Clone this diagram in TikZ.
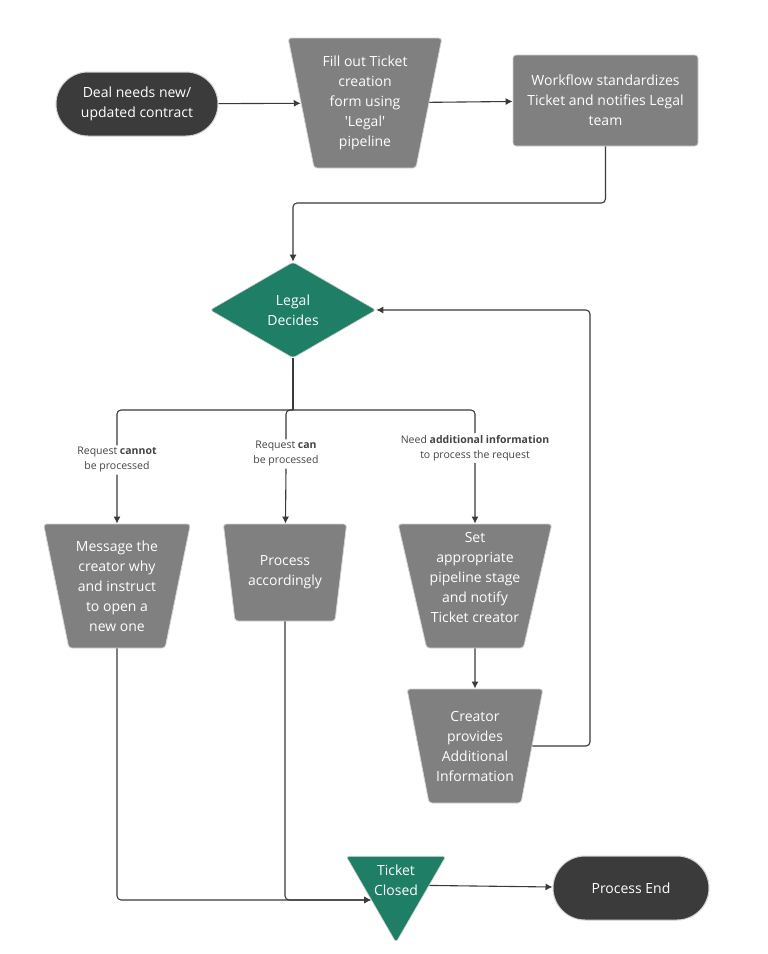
\documentclass[tikz,border=0pt]{standalone}
\usepackage{fontspec}
\setmainfont{Open Sans}
\usetikzlibrary{shapes.geometric,arrows.meta,calc}
\definecolor{darkfill}{HTML}{3B3B3B}
\definecolor{boxgray}{HTML}{808080}
\definecolor{legalgreen}{HTML}{1E7E66}
\definecolor{linegray}{HTML}{3A3A3A}
\definecolor{edgegray}{HTML}{D4D4D4}
\definecolor{labeltext}{HTML}{444444}
\begin{document}
\begin{tikzpicture}[x=1pt,y=-1pt,
  every node/.style={font=\fontsize{14}{20}\selectfont, text=white, align=center, inner sep=0pt},
  terminal/.style={rectangle, rounded corners=32pt, fill=darkfill, draw=edgegray, line width=1pt, minimum width=#1, minimum height=64pt},
  trap/.style args={#1/#2/#3}{trapezium, shape border rotate=180, trapezium stretches=true,
    trapezium left angle=#3, trapezium right angle=#3, minimum width=#1, minimum height=#2,
    fill=boxgray, draw=edgegray, line width=0.8pt, rounded corners=3pt},
  procbox/.style={rectangle, fill=boxgray, draw=edgegray, line width=0.8pt, rounded corners=3pt, minimum width=185pt, minimum height=91pt},
  decision/.style={diamond, fill=legalgreen, draw=edgegray, line width=0.6pt, minimum width=166pt, minimum height=96pt, rounded corners=3pt},
  closer/.style={regular polygon, regular polygon sides=3, shape border rotate=180, minimum size=115pt, fill=legalgreen, draw=edgegray, line width=0.6pt, rounded corners=3pt},
  conn/.style={draw=linegray, line width=1.1pt, rounded corners=4pt},
  arr/.style={conn, -{Latex[length=7pt,width=7pt]}},
  lbl/.style={font=\fontsize{10.5}{15}\selectfont, text=labeltext, inner sep=2pt}
]
\fill[white] (0,0) rectangle (768,954);
\useasboundingbox (0,0) rectangle (768,954);

\node[terminal=162pt] (start) at (137,104) {Deal needs new/\\updated contract};
\node[trap=154pt/130pt/77] (fillform) at (365,103) {Fill out Ticket\\creation\\form using\\\textquotesingle Legal\textquotesingle\\pipeline};
\node[procbox] (wf) at (605.5,100.5) {Workflow standardizes\\Ticket and notifies Legal\\team};
\node[decision] (dec) at (293,310) {Legal\\Decides};

\node[lbl] (l1) at (117,460) {Request \textbf{cannot}\\be processed};
\node[lbl] (l2) at (286,454) {Request \textbf{can}\\be processed};
\node[lbl] (l3) at (475,448) {Need \textbf{additional information}\\to process the request};

\node[trap=147pt/124pt/76.6] (msg) at (117,586) {Message the\\creator why\\and instruct\\to open a\\new one};
\node[trap=124pt/97pt/75.5] (proc) at (285,572.5) {Process\\accordingly};
\node[trap=154pt/124pt/76] (setst) at (475,586) {Set\\appropriate\\pipeline stage\\and notify\\Ticket creator\\[-3pt]\mbox{}};
\node[trap=136pt/114pt/75.2] (cr) at (475,746) {Creator\\provides\\Additional\\Information};

\node[closer, label={[yshift=5pt]center:{Ticket\\Closed}}] (tc) at (396,885) {};
\node[terminal=156pt] (pe) at (631,888) {Process End};

\coordinate (j1) at (293,203);
\coordinate (lp) at (590,310);
\coordinate (br) at (293,410);

\draw[arr] (start) -- (fillform);
\draw[arr] (fillform) -- (wf);
\draw[arr] (wf.south) |- (j1) -- (dec.north);
\draw[arr] (cr) -| (lp) -- (dec);
\draw[conn] (dec.south) -- (br);
\draw[conn] (br) -| (l1.north);
\draw[conn] (br) -| (l2.north);
\draw[conn] (br) -| (l3.north);
\draw[arr] (l1.south) -- (msg);
\draw[arr] (l2.south) -- (proc);
\draw[arr] (l3.south) -- (setst);
\draw[arr] (setst) -- (cr);
\draw[arr] (msg) |- (tc.211);
\draw[arr] (proc) |- (tc.211);
\draw[arr] (tc) -- (pe);
\end{tikzpicture}
\end{document}
